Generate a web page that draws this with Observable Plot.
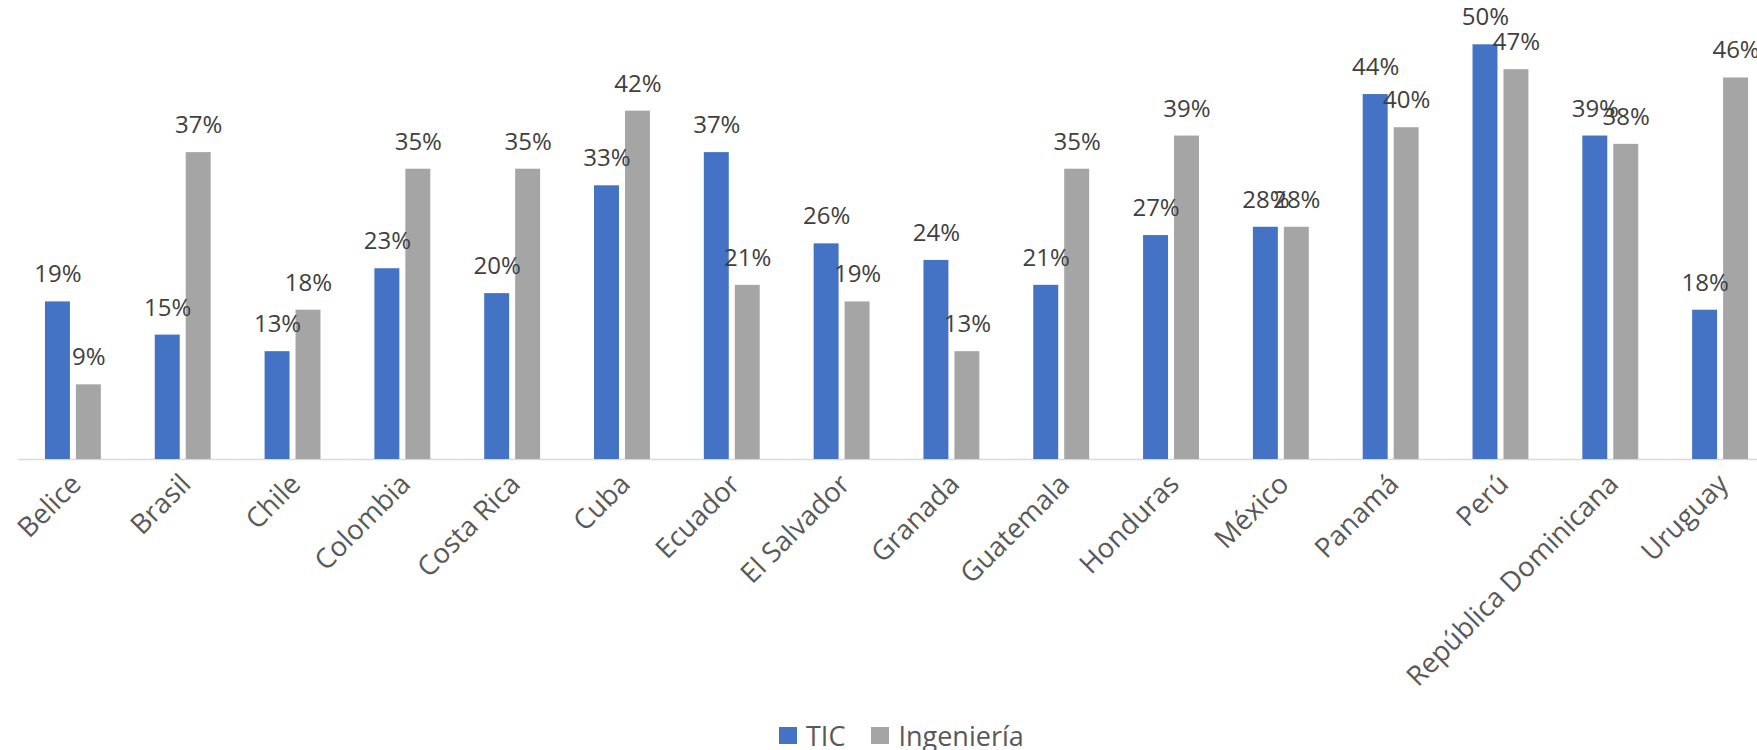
<!DOCTYPE html>
<html><head><meta charset="utf-8">
<script src="https://cdn.jsdelivr.net/npm/d3@7"></script>
<script src="https://cdn.jsdelivr.net/npm/@observablehq/plot@0.6"></script>
<style>
body{margin:0;background:#fff;font-family:"Open Sans",sans-serif;width:1757px;height:750px;overflow:hidden;position:relative;}
#legend{position:absolute;left:779px;top:715px;height:40px;display:flex;align-items:center;font-size:27px;color:#595959;}
#legend .sw{width:18px;height:17px;display:inline-block;margin-right:9px;}
#legend .item{display:flex;align-items:center;margin-right:26px;}
</style>
</head><body><div id="chart"></div><div id="legend"></div>
<script>
const countries = ["Belice","Brasil","Chile","Colombia","Costa Rica","Cuba","Ecuador","El Salvador","Granada","Guatemala","Honduras","México","Panamá","Perú","República Dominicana","Uruguay"];
const tic =        [19, 15, 13, 23, 20, 33, 37, 26, 24, 21, 27, 28, 44, 50, 39, 18];
const ingenieria = [ 9, 37, 18, 35, 35, 42, 21, 19, 13, 35, 39, 28, 40, 47, 38, 46];
const seriesNames = ["TIC", "Ingeniería"];
const seriesColors = ["#4472C4", "#A5A5A5"];

const data = countries.flatMap((c, i) => [
  {country: c, series: seriesNames[0], value: tic[i]},
  {country: c, series: seriesNames[1], value: ingenieria[i]}
]);

const plot = Plot.plot({
  width: 1757,
  height: 712,
  marginTop: 44.3,
  marginBottom: 253,
  marginLeft: 0,
  marginRight: 0,
  style: {fontFamily: "Open Sans", background: "#fff"},
  fx: {domain: countries, range: [18, 1775], padding: 0, round: false},
  x: {domain: seriesNames, paddingInner: 0.194, paddingOuter: 0.871, round: false, axis: null},
  y: {domain: [0, 50], axis: null},
  color: {domain: seriesNames, range: seriesColors},
  marks: [
    Plot.ruleY([0], {stroke: "#d9d9d9", strokeWidth: 1.5}),
    Plot.barY(data, {fx: "country", x: "series", y: "value", fill: "series"}),
    Plot.text(data, {fx: "country", x: "series", y: "value", text: d => d.value + "%",
      lineAnchor: "bottom", dy: -19.5, fontSize: 24, fill: "#404040"}),
    Plot.axisFx({anchor: "bottom", tickRotate: -45, tickSize: 0, tickPadding: 20, dx: 3,
      fontSize: 27.5, fill: "#595959", label: null})
  ]
});
document.getElementById("chart").appendChild(plot);

const legend = document.getElementById("legend");
seriesNames.forEach((name, i) => {
  const item = document.createElement("span");
  item.className = "item";
  const sw = document.createElement("span");
  sw.className = "sw";
  sw.style.background = seriesColors[i];
  item.appendChild(sw);
  item.appendChild(document.createTextNode(name));
  legend.appendChild(item);
});
</script>
</body></html>
